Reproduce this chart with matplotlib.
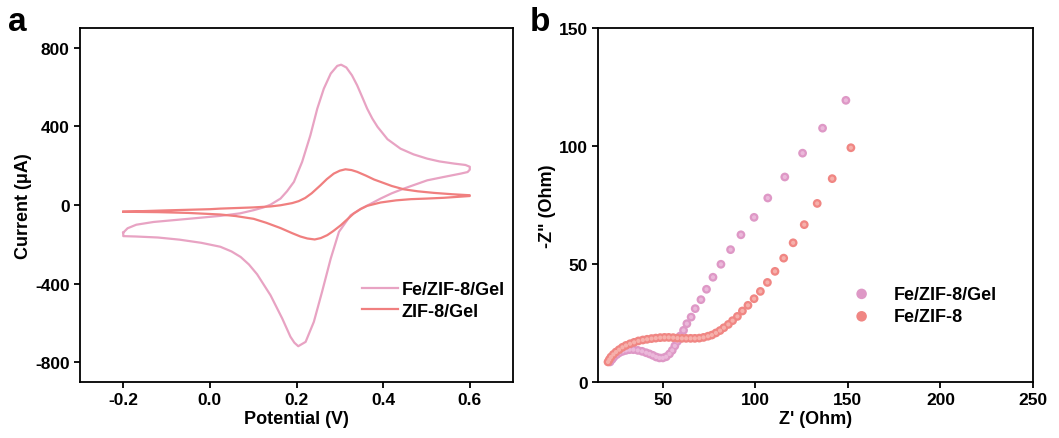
import matplotlib
matplotlib.use("Agg")
import matplotlib.pyplot as plt

plt.rcParams['font.family'] = ['Liberation Sans', 'DejaVu Sans']
plt.rcParams['font.weight'] = 'bold'
plt.rcParams['axes.unicode_minus'] = False

# ---- Panel a: CV curves (closed loops, forward then reverse scan) ----
cv_fe_v = [-0.2, -0.19, -0.17, -0.13, -0.08, -0.03, 0.024, 0.07, 0.101, 0.124, 0.14,
           0.163, 0.178, 0.194, 0.213, 0.232, 0.248, 0.263, 0.279, 0.294, 0.303, 0.315,
           0.328, 0.34, 0.352, 0.363, 0.375, 0.387, 0.41, 0.44, 0.47, 0.502, 0.53, 0.564,
           0.59, 0.6, 0.6, 0.595, 0.579, 0.54, 0.502, 0.448, 0.42, 0.394, 0.37, 0.348,
           0.325, 0.298, 0.279, 0.259, 0.24, 0.221, 0.204, 0.195, 0.186, 0.167, 0.14,
           0.109, 0.09, 0.071, 0.05, 0.024, -0.02, -0.07, -0.12, -0.17, -0.2, -0.2]
cv_fe_i = [-140, -118, -100, -86, -76, -66, -55, -42, -26, -12, 2,
           33, 70, 118, 220, 355, 491, 592, 669, 708, 714, 700,
           660, 609, 548, 491, 440, 398, 335, 287, 258, 236, 222, 211,
           204, 195, 180, 168, 160, 143, 126, 84, 60, 33, 5, -20,
           -52, -136, -272, -441, -594, -696, -718, -700, -670, -577, -459,
           -352, -302, -264, -236, -212, -192, -176, -165, -160, -158, -140]

cv_zif_v = [-0.2, -0.1, 0.0, 0.024, 0.1, 0.14, 0.163, 0.19, 0.205, 0.22, 0.235, 0.255,
            0.27, 0.286, 0.3, 0.313, 0.327, 0.34, 0.36, 0.379, 0.394, 0.42, 0.448, 0.48,
            0.517, 0.56, 0.6, 0.6, 0.56, 0.54, 0.5, 0.464, 0.43, 0.394, 0.363, 0.348,
            0.332, 0.302, 0.285, 0.271, 0.256, 0.242, 0.225, 0.209, 0.19, 0.163, 0.13,
            0.101, 0.06, 0.024, -0.05, -0.12, -0.2]
cv_zif_i = [-34, -27, -21, -18, -12, -7, -1, 10, 20, 36, 60, 100,
            132, 160, 175, 182, 178, 169, 150, 130, 118, 97, 80, 70,
            62, 55, 50, 46, 40, 37, 33, 30, 24, 13, -4, -20,
            -43, -103, -132, -153, -168, -175, -170, -160, -143, -117, -90,
            -70, -56, -48, -40, -36, -34]

# ---- Panel b: Nyquist plots ----
eis_gel_x = [21.5, 22.6, 23.6, 25.1, 26.5, 28.3, 30.1, 32.0, 34.1, 36.5, 38.8, 41.0,
             42.8, 44.6, 46.4, 48.2, 50.0, 51.8, 53.6, 55.1, 56.5, 57.9, 59.4, 61.2,
             63.0, 65.3, 67.5, 70.6, 73.6, 77.1, 81.4, 86.6, 92.2, 99.3, 106.7, 115.9,
             125.5, 136.3, 148.9]
eis_gel_y = [8.5, 9.6, 10.6, 11.6, 12.4, 13.0, 13.4, 13.7, 13.7, 13.4, 13.0, 12.4,
             11.9, 11.3, 10.6, 10.2, 10.2, 10.7, 11.9, 13.4, 15.3, 17.2, 19.5, 21.9,
             24.7, 27.5, 31.1, 34.9, 39.3, 44.4, 49.9, 56.1, 62.4, 69.8, 78.0, 86.9,
             97.0, 107.6, 119.4]

eis_fe_x = [20.4, 21.1, 22.0, 23.3, 24.7, 26.4, 28.2, 30.1, 32.3, 34.5, 36.8, 39.2,
            41.5, 43.9, 46.2, 48.6, 50.9, 53.2, 55.6, 57.9, 60.3, 62.6, 65.0, 67.3,
            69.7, 72.0, 74.4, 76.5, 78.7, 80.9, 83.0, 85.4, 87.7, 90.3, 93.0, 96.0,
            99.3, 102.7, 106.5, 110.6, 115.3, 120.4, 126.4, 133.4, 141.5, 151.6]
eis_fe_y = [8.5, 9.5, 10.6, 11.7, 12.7, 13.7, 14.7, 15.5, 16.2, 16.8, 17.4, 17.8,
            18.1, 18.4, 18.6, 18.8, 18.9, 18.9, 18.8, 18.6, 18.5, 18.5, 18.5, 18.5,
            18.6, 18.9, 19.4, 19.9, 20.8, 21.8, 23.0, 24.4, 26.0, 27.8, 30.1, 32.5,
            35.3, 38.4, 42.2, 46.9, 52.5, 59.0, 66.7, 75.7, 86.2, 99.3]

pink_line = '#E8A3C3'
red_line = '#F07F7F'
pink_dot = '#DE98C6'
red_dot = '#F08683'

fig = plt.figure(figsize=(10.59, 4.39), dpi=100)
ax1 = fig.add_axes([0.0755, 0.1276, 0.409, 0.806])
ax2 = fig.add_axes([0.5647, 0.1276, 0.4108, 0.806])

ax1.plot(cv_fe_v, cv_fe_i, color=pink_line, lw=1.6, label='Fe/ZIF-8/Gel',
         solid_joinstyle='round')
ax1.plot(cv_zif_v, cv_zif_i, color=red_line, lw=1.6, label='ZIF-8/Gel',
         solid_joinstyle='round')
ax1.set_xlim(-0.3, 0.7)
ax1.set_ylim(-900, 900)
ax1.set_xticks([-0.2, 0.0, 0.2, 0.4, 0.6])
ax1.set_yticks([-800, -400, 0, 400, 800])
ax1.set_xlabel('Potential (V)', fontsize=13, fontweight='bold', labelpad=2)
ax1.set_ylabel('Current (\u03bcA)', fontsize=13, fontweight='bold', labelpad=2)
ax1.legend(loc='lower right', bbox_to_anchor=(1.018, 0.13), frameon=False,
           prop={'size': 13, 'weight': 'bold'}, handlelength=2.0,
           handletextpad=0.2, labelspacing=0.25)

# spheres: base marker plus a soft highlight
ax2.scatter(eis_gel_x, eis_gel_y, s=40, color=pink_dot, edgecolors='none', zorder=2,
            label='Fe/ZIF-8/Gel')
ax2.scatter(eis_gel_x, eis_gel_y, s=9, color='#EBB8DA', edgecolors='none', zorder=3)
ax2.scatter(eis_fe_x, eis_fe_y, s=40, color=red_dot, edgecolors='none', zorder=4,
            label='Fe/ZIF-8')
ax2.scatter(eis_fe_x, eis_fe_y, s=9, color='#F6B0AB', edgecolors='none', zorder=5)
ax2.set_xlim(15, 250)
ax2.set_ylim(0, 150)
ax2.set_xticks([50, 100, 150, 200, 250])
ax2.set_yticks([0, 50, 100, 150])
ax2.set_xlabel("Z' (Ohm)", fontsize=13, fontweight='bold', labelpad=2)
ax2.set_ylabel('-Z" (Ohm)', fontsize=13, fontweight='bold', labelpad=2)
ax2.legend(loc='lower right', bbox_to_anchor=(0.955, 0.115), frameon=False,
           prop={'size': 13, 'weight': 'bold'}, handletextpad=0.8,
           labelspacing=0.3, markerscale=1.2)

for ax in (ax1, ax2):
    for s in ax.spines.values():
        s.set_linewidth(1.3)
    ax.tick_params(direction='out', length=4, width=1.3, labelsize=12.5,
                   top=False, right=False)
    for lab in ax.get_xticklabels() + ax.get_yticklabels():
        lab.set_fontweight('bold')

fig.text(0.008, 0.93, 'a', fontsize=24, fontweight='bold')
fig.text(0.50, 0.93, 'b', fontsize=24, fontweight='bold')

fig.savefig('out.png', dpi=100)
